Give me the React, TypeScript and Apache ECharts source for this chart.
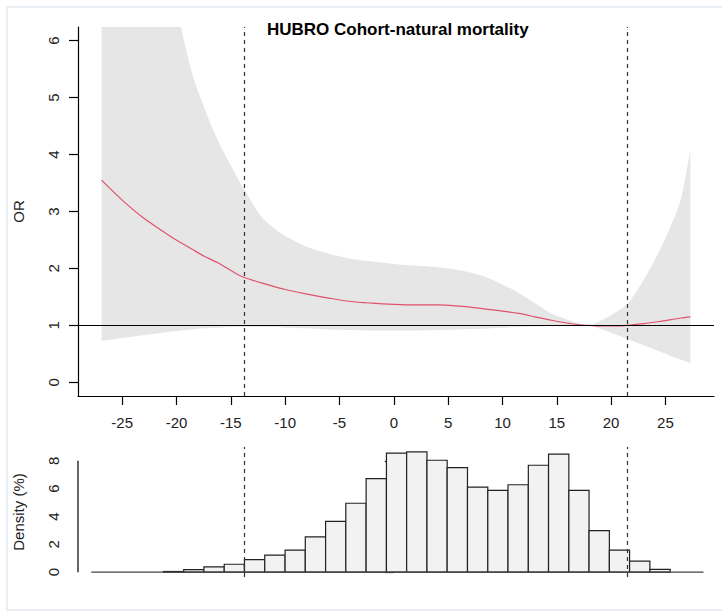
import React, { useEffect, useRef } from "react";
import * as echarts from "echarts";

const TITLE = "HUBRO Cohort-natural mortality";
const X_TICKS = [-25, -20, -15, -10, -5, 0, 5, 10, 15, 20, 25];
const OR_TICKS = [0, 1, 2, 3, 4, 5, 6];
const DENS_TICKS = [0, 2, 4, 6, 8];
const CUTOFFS = [-13.75, 21.5];

const CURVE_X = [-26.9, -25, -23, -21, -19.6, -18.6, -17.5, -16.2, -14.7, -13.75, -12.25, -11, -10, -8, -6, -4, -2, 0, 2, 4, 6, 8, 10, 11.5, 13, 14.5, 16, 17, 18, 19, 20, 21.5, 23, 24.5, 25.5, 26.4, 27.3];
const OR_EST = [3.55, 3.2, 2.88, 2.62, 2.45, 2.34, 2.22, 2.1, 1.93, 1.84, 1.75, 1.68, 1.63, 1.55, 1.48, 1.42, 1.39, 1.37, 1.36, 1.36, 1.34, 1.3, 1.25, 1.21, 1.15, 1.09, 1.04, 1.01, 1.0, 0.99, 0.99, 1.0, 1.03, 1.07, 1.1, 1.13, 1.15];
const OR_UPPER = [14.5, 11.8, 9.4, 7.4, 6.24, 5.45, 4.85, 4.25, 3.7, 3.38, 2.92, 2.7, 2.57, 2.38, 2.26, 2.17, 2.12, 2.08, 2.05, 2.02, 1.97, 1.88, 1.72, 1.57, 1.39, 1.21, 1.1, 1.04, 1.0, 1.08, 1.18, 1.38, 1.8, 2.33, 2.75, 3.2, 4.07];
const OR_LOWER = [0.73, 0.78, 0.83, 0.88, 0.91, 0.93, 0.95, 0.96, 0.97, 0.97, 0.97, 0.97, 0.96, 0.95, 0.93, 0.92, 0.91, 0.91, 0.91, 0.92, 0.93, 0.94, 0.96, 0.97, 0.98, 0.99, 0.99, 1.0, 1.0, 0.94, 0.87, 0.76, 0.65, 0.54, 0.46, 0.4, 0.33];

const BIN_START = [-21.21, -19.34, -17.48, -15.61, -13.75, -11.88, -10.01, -8.15, -6.28, -4.42, -2.55, -0.68, 1.18, 3.05, 4.91, 6.78, 8.65, 10.51, 12.38, 14.24, 16.11, 17.97, 19.84, 21.7, 23.57];
const BIN_END = [-19.34, -17.48, -15.61, -13.75, -11.88, -10.01, -8.15, -6.28, -4.42, -2.55, -0.68, 1.18, 3.05, 4.91, 6.78, 8.65, 10.51, 12.38, 14.24, 16.11, 17.97, 19.84, 21.7, 23.57, 25.44];
const DENSITY = [0.05, 0.18, 0.38, 0.57, 0.9, 1.23, 1.59, 2.54, 3.65, 4.95, 6.72, 8.55, 8.64, 8.04, 7.51, 6.11, 5.87, 6.28, 7.68, 8.48, 5.87, 2.99, 1.59, 0.8, 0.2];
const HIST_BASE_X = [-27.85, 28.5];

const X_MIN = -29.07;
const X_MAX = 29.47;
const FONT = "'Liberation Sans', Arial, sans-serif";

export default function App() {
  const ref = useRef<HTMLDivElement>(null);
  useEffect(() => {
    document.body.style.margin = "0";
    const chart = echarts.init(ref.current!, null, { renderer: "svg" });
    const dashed = {
      symbol: "none",
      silent: true,
      label: { show: false },
      lineStyle: { type: [4, 4], color: "#333", width: 1.2 },
      data: CUTOFFS.map((v) => ({ xAxis: v })),
    };
    const option: any = {
      animation: false,
      backgroundColor: "#fff",
      textStyle: { fontFamily: FONT },
      title: {
        text: TITLE,
        left: 262,
        top: 16,
        textStyle: { fontSize: 17, fontWeight: "bold", color: "#000", fontFamily: FONT },
      },
      graphic: [
        {
          type: "rect",
          silent: true,
          z: -10,
          shape: { x: 7, y: 7, width: 720, height: 603 },
          style: { fill: "none", stroke: "#e9eef5", lineWidth: 2 },
        },
      ],
      grid: [
        { left: 78, top: 27, width: 636, height: 369 },
        { left: 78, top: 447, width: 636, height: 130 },
      ],
      xAxis: [
        {
          type: "value",
          gridIndex: 0,
          min: X_MIN,
          max: X_MAX,
          splitLine: { show: false },
          axisLine: { show: true, onZero: false, lineStyle: { color: "#000", width: 1.2 } },
          axisTick: { show: true, customValues: X_TICKS, length: 9, lineStyle: { color: "#000", width: 1.2 } },
          axisLabel: { customValues: X_TICKS, fontSize: 15, color: "#222", margin: 19, fontFamily: FONT },
        },
        {
          type: "value",
          gridIndex: 1,
          min: X_MIN,
          max: X_MAX,
          show: false,
        },
      ],
      yAxis: [
        {
          type: "value",
          gridIndex: 0,
          min: -0.24,
          max: 6.24,
          name: "OR",
          nameLocation: "middle",
          nameRotate: 90,
          nameGap: 52,
          nameTextStyle: { fontSize: 15, color: "#222", fontFamily: FONT },
          splitLine: { show: false },
          axisLine: { show: true, onZero: false, lineStyle: { color: "#000", width: 1.2 } },
          axisTick: { show: true, customValues: OR_TICKS, length: 9, lineStyle: { color: "#000", width: 1.2 } },
          axisLabel: { customValues: OR_TICKS, rotate: 90, fontSize: 15, color: "#222", margin: 17, fontFamily: FONT },
        },
        {
          type: "value",
          gridIndex: 1,
          min: -0.346,
          max: 8.99,
          name: "Density (%)",
          nameLocation: "middle",
          nameRotate: 90,
          nameGap: 52,
          nameTextStyle: { fontSize: 15, color: "#222", fontFamily: FONT },
          splitLine: { show: false },
          axisLine: { show: false },
          axisTick: { show: true, customValues: DENS_TICKS, length: 9, lineStyle: { color: "#000", width: 1.2 } },
          axisLabel: { customValues: DENS_TICKS, rotate: 90, fontSize: 15, color: "#222", margin: 17, fontFamily: FONT },
        },
      ],
      series: [
        {
          type: "custom",
          xAxisIndex: 0,
          yAxisIndex: 0,
          silent: true,
          clip: true,
          encode: { x: 0, y: [1, 2] },
          data: CURVE_X.map((x, i) => [x, OR_LOWER[i], OR_UPPER[i]]),
          renderItem: (params: any, api: any) => {
            if (params.dataIndex !== 0) return null;
            const top = CURVE_X.map((x, i) => api.coord([x, OR_UPPER[i]]));
            const bottom = CURVE_X.map((x, i) => api.coord([x, OR_LOWER[i]])).reverse();
            const tL = top[0];
            const tR = top[top.length - 1];
            const bR = bottom[0];
            const bL = bottom[bottom.length - 1];
            const pts = [
              ...top,
              [tR[0], tR[1] + 0.4],
              [bR[0], bR[1] - 0.4],
              ...bottom,
              [bL[0], bL[1] - 0.4],
              [tL[0], tL[1] + 0.4],
            ];
            const cs = params.coordSys;
            return {
              type: "group",
              children: [
                {
                  type: "polygon",
                  shape: { points: pts, smooth: 0.3 },
                  style: { fill: "#e6e6e6", stroke: "none" },
                },
              ],
              clipPath: {
                type: "rect",
                shape: { x: cs.x, y: cs.y, width: cs.width, height: cs.height },
              },
            };
          },
          z: 1,
        },
        {
          type: "line",
          xAxisIndex: 0,
          yAxisIndex: 0,
          symbol: "none",
          smooth: 0.3,
          silent: true,
          lineStyle: { color: "#DF536B", width: 1.2 },
          data: CURVE_X.map((x, i) => [x, OR_EST[i]]),
          z: 2,
          markLine: dashed,
        },
        {
          type: "line",
          xAxisIndex: 0,
          yAxisIndex: 0,
          symbol: "none",
          silent: true,
          data: [],
          z: 3,
          markLine: {
            symbol: "none",
            silent: true,
            label: { show: false },
            lineStyle: { type: "solid", color: "#000", width: 1.2 },
            data: [{ yAxis: 1 }],
          },
        },
        {
          type: "custom",
          xAxisIndex: 1,
          yAxisIndex: 1,
          silent: true,
          encode: { x: [0, 1], y: 2 },
          data: BIN_START.map((s, i) => [s, BIN_END[i], DENSITY[i]]),
          renderItem: (params: any, api: any) => {
            const p0 = api.coord([api.value(0), api.value(2)]);
            const p1 = api.coord([api.value(1), 0]);
            return {
              type: "rect",
              shape: { x: p0[0], y: p0[1], width: p1[0] - p0[0], height: p1[1] - p0[1] },
              style: { fill: "#f2f2f2", stroke: "#222", lineWidth: 1.2 },
            };
          },
          markLine: dashed,
          z: 2,
        },
        {
          type: "line",
          xAxisIndex: 1,
          yAxisIndex: 1,
          symbol: "none",
          silent: true,
          clip: false,
          lineStyle: { color: "#444", width: 1.2 },
          data: HIST_BASE_X.map((x) => [x, 0]),
          z: 3,
        },
        {
          type: "line",
          xAxisIndex: 1,
          yAxisIndex: 1,
          symbol: "none",
          silent: true,
          clip: false,
          lineStyle: { color: "#000", width: 1.2 },
          data: [[X_MIN, DENS_TICKS[0]], [X_MIN, DENS_TICKS[DENS_TICKS.length - 1]]],
          z: 3,
        },
      ],
    };
    chart.setOption(option);
    return () => chart.dispose();
  }, []);
  return <div ref={ref} style={{ width: 722, height: 612 }} />;
}
